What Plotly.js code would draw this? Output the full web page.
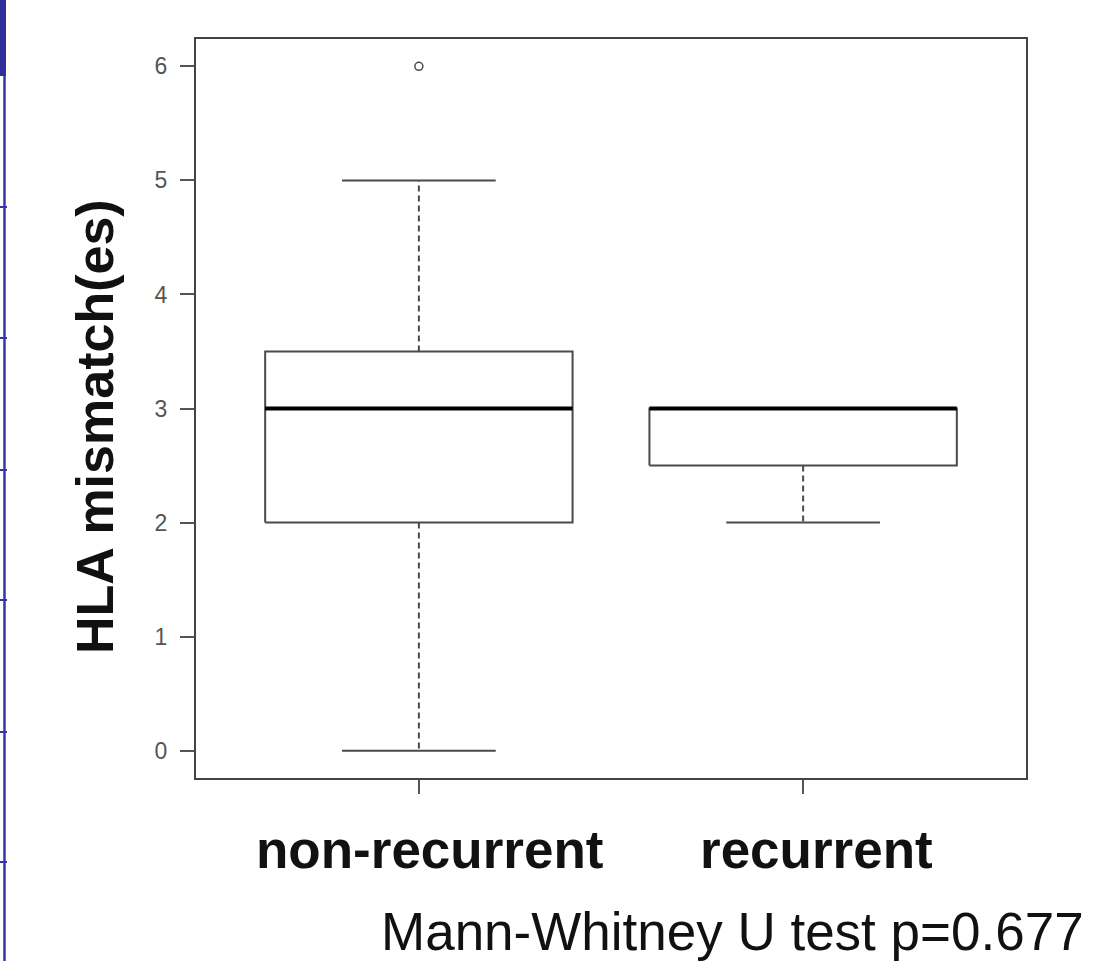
<!DOCTYPE html>
<html>
<head>
<meta charset="utf-8">
<script src="https://cdn.plot.ly/plotly-3.0.1.min.js"></script>
<style>html,body{margin:0;padding:0;background:#fff;}#chart{width:1106px;height:961px;}</style>
</head>
<body>
<div id="chart"></div>
<script>
// ---- data ----
const categories = ['non-recurrent', 'recurrent'];
const positions = [1, 2];
const lowerWhisker = [0, 2];
const q1 = [2, 2.5];
const median = [3, 3];
const q3 = [3.5, 3];
const upperWhisker = [5, 3];
const outliers = [[6], []];
const yTicks = [0, 1, 2, 3, 4, 5, 6];
const yTitle = 'HLA mismatch(es)';
const testNote = 'Mann-Whitney U test p=0.677';

// ---- style ----
const W = 1106, H = 961;
const M = {l: 196, r: 80, t: 39, b: 183};
const PW = W - M.l - M.r, PH = H - M.t - M.b;
const px2x = p => (p - M.l) / PW;
const px2y = p => (H - M.b - p) / PH;
const boxHalf = 0.4, capHalf = 0.2;
const lineCol = '#4a4a4a';
const FONT = 'Liberation Sans, Arial, Helvetica, sans-serif';

const traces = [];
positions.forEach((p, i) => {
  // whiskers (dashed)
  if (upperWhisker[i] > q3[i]) {
    traces.push({x: [p, p], y: [q3[i], upperWhisker[i]], mode: 'lines', line: {color: lineCol, width: 2, dash: '6px,4px'}, hoverinfo: 'skip'});
  }
  if (lowerWhisker[i] < q1[i]) {
    traces.push({x: [p, p], y: [q1[i], lowerWhisker[i]], mode: 'lines', line: {color: lineCol, width: 2, dash: '6px,4px'}, hoverinfo: 'skip'});
  }
  // caps
  traces.push({x: [p - capHalf, p + capHalf], y: [upperWhisker[i], upperWhisker[i]], mode: 'lines', line: {color: lineCol, width: 2}, hoverinfo: 'skip'});
  traces.push({x: [p - capHalf, p + capHalf], y: [lowerWhisker[i], lowerWhisker[i]], mode: 'lines', line: {color: lineCol, width: 2}, hoverinfo: 'skip'});
  // box
  traces.push({x: [p - boxHalf, p + boxHalf, p + boxHalf, p - boxHalf, p - boxHalf],
               y: [q1[i], q1[i], q3[i], q3[i], q1[i]], mode: 'lines',
               line: {color: lineCol, width: 2}, hoverinfo: 'skip'});
  // median
  traces.push({x: [p - boxHalf, p + boxHalf], y: [median[i], median[i]], mode: 'lines', line: {color: '#000', width: 4}, hoverinfo: 'skip'});
  // outliers
  if (outliers[i].length) {
    traces.push({x: outliers[i].map(() => p), y: outliers[i], mode: 'markers',
                 marker: {symbol: 'circle-open', size: 8, color: lineCol, line: {width: 1.5, color: lineCol}}, hoverinfo: 'skip'});
  }
});

const annotations = [];
categories.forEach((c, i) => {
  annotations.push({text: '<b>' + c + '</b>', xref: 'x', yref: 'paper', x: positions[i], y: px2y(849),
                    xshift: i === 0 ? 11 : 13, xanchor: 'center', yanchor: 'middle', showarrow: false,
                    font: {family: FONT, size: 53, color: '#111'}});
});
annotations.push({text: '<b>' + yTitle + '</b>', xref: 'paper', yref: 'paper', x: px2x(95), y: px2y(427),
                  textangle: -90, xanchor: 'center', yanchor: 'middle', showarrow: false,
                  font: {family: FONT, size: 52, color: '#111'}});
annotations.push({text: testNote, xref: 'paper', yref: 'paper', x: px2x(1086), y: px2y(931),
                  xanchor: 'right', yanchor: 'middle', showarrow: false,
                  font: {family: FONT, size: 53, color: '#111'}});

// slide edge decoration (left)
const blue = '#3535a5';
const shapes = [
  {type: 'rect', xref: 'paper', yref: 'paper', x0: px2x(0), x1: px2x(6), y0: px2y(0), y1: px2y(76), fillcolor: '#2f2f9c', line: {width: 0}, layer: 'below'},
  {type: 'line', xref: 'paper', yref: 'paper', x0: px2x(4.5), x1: px2x(4.5), y0: px2y(76), y1: px2y(961), line: {color: blue, width: 2.5}},
];
[207, 338, 470, 600, 732, 862].forEach(yy => {
  shapes.push({type: 'line', xref: 'paper', yref: 'paper', x0: px2x(0), x1: px2x(7), y0: px2y(yy), y1: px2y(yy), line: {color: blue, width: 2}});
});

const layout = {
  width: W, height: H,
  margin: M,
  paper_bgcolor: '#fff', plot_bgcolor: '#fff',
  showlegend: false,
  font: {family: FONT},
  xaxis: {range: [0.42, 2.58], tickvals: positions, ticktext: positions.map(() => ''),
          ticks: 'outside', ticklen: 14, tickwidth: 2, tickcolor: '#555',
          showline: true, linecolor: '#444', linewidth: 2, mirror: true,
          showgrid: false, zeroline: false, fixedrange: true},
  yaxis: {range: [-0.24, 6.24], tickvals: yTicks, ticktext: yTicks.map(String),
          ticks: 'outside', ticklen: 14, tickwidth: 2, tickcolor: '#555',
          tickfont: {family: FONT, size: 23, color: '#555'}, ticklabelstandoff: 8,
          showline: true, linecolor: '#444', linewidth: 2, mirror: true,
          showgrid: false, zeroline: false, fixedrange: true},
  annotations: annotations,
  shapes: shapes
};

Plotly.newPlot('chart', traces, layout, {displayModeBar: false, staticPlot: true});
</script>
</body>
</html>
